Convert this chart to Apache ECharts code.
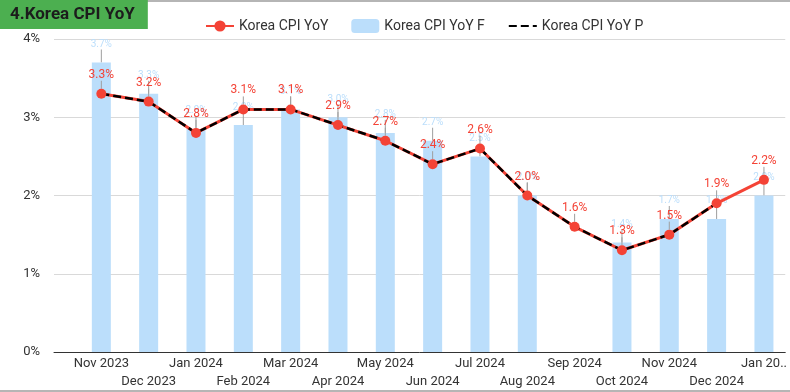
<!DOCTYPE html>
<html>
<head>
<meta charset="utf-8">
<script src="https://cdn.jsdelivr.net/npm/echarts@6/dist/echarts.min.js"></script>
<style>
html,body{margin:0;padding:0;background:#fff;}
#c{width:790px;height:392px;}
</style>
</head>
<body>
<div id="c"></div>
<script>
var categories = ['Nov 2023','Dec 2023','Jan 2024','Feb 2024','Mar 2024','Apr 2024','May 2024','Jun 2024','Jul 2024','Aug 2024','Sep 2024','Oct 2024','Nov 2024','Dec 2024','Jan 2025'];
var yoy  = [3.3, 3.2, 2.8, 3.1, 3.1, 2.9, 2.7, 2.4, 2.6, 2.0, 1.6, 1.3, 1.5, 1.9, 2.2];
var yoyF = [3.7, 3.3, 2.85, 2.9, 3.1, 3.0, 2.8, 2.7, 2.5, 2.0, null, 1.4, 1.7, 1.7, 2.0];
var yoyP = [3.3, 3.2, 2.8, 3.1, 3.1, 2.9, 2.7, 2.4, 2.6, 2.0, 1.6, 1.3, 1.5, 1.9, null];
var yTicks = [0, 1, 2, 3, 4];

function pairs(arr){ return arr.map(function(v,i){ return [i, v]; }); }
var FONT = 'Roboto, "Noto Sans", sans-serif';

var chart = echarts.init(document.getElementById('c'), null, {renderer:'canvas'});
chart.setOption({
  animation:false,
  textStyle:{fontFamily:FONT},
  title:{
    text:'4.Korea CPI YoY', left:0, top:0, z:10,
    backgroundColor:'#4caf50',
    padding:[5,13,5,10],
    textStyle:{fontSize:17, fontWeight:'bold', color:'#1c1c1c', fontFamily:FONT, lineHeight:19}
  },
  graphic:[
    {type:'line', z:-1, shape:{x1:0,y1:1,x2:790,y2:1}, style:{stroke:'#b5b5b5', lineWidth:2}},
    {type:'line', z:-1, shape:{x1:0,y1:391,x2:790,y2:391}, style:{stroke:'#b5b5b5', lineWidth:2}}
  ],
  legend:{
    data:['Korea CPI YoY','Korea CPI YoY F',{name:'Korea CPI YoY P', itemStyle:{opacity:0}}],
    left:200, top:14, itemWidth:28, itemHeight:14, itemGap:23, itemTextGap:7,
    textStyle:{fontSize:14, color:'#333', fontFamily:FONT}
  },
  grid:{left:54, right:0, top:39, bottom:40},
  xAxis:{
    type:'value', min:-1, max:14.45, interval:1,
    splitLine:{show:false}, axisTick:{show:false},
    axisLine:{show:true, lineStyle:{color:'#333', width:1}},
    axisLabel:{
      color:'#333', fontSize:13, margin:3, lineHeight:18, showMaxLabel:true, showMinLabel:true,
      formatter:function(v){
        if (v < 0 || Math.abs(v - Math.round(v)) > 1e-6) return '';
        var i = Math.round(v);
        var t = categories[i];
        if (i === categories.length - 1) t = t.slice(0,6) + '..';
        return (i % 2 === 1) ? '\n' + t : t;
      }
    }
  },
  yAxis:{
    type:'value', min:yTicks[0], max:yTicks[yTicks.length-1], interval:1,
    axisLine:{show:false}, axisTick:{show:false},
    axisLabel:{color:'#333', fontSize:13, margin:14, formatter:'{value}%'},
    splitLine:{lineStyle:{color:'#d9d9d9', width:1}}
  },
  series:[
    {
      name:'Korea CPI YoY F', type:'bar', data:pairs(yoyF), barWidth:19,
      itemStyle:{color:'#bbdefb'},
      label:{show:true, position:'top', distance:0, fontSize:10, color:'#bbdefb',
        formatter:function(p){ return p.value[1].toFixed(1)+'%'; }},
      labelLine:{show:true, lineStyle:{color:'#9e9e9e', width:1}},
      labelLayout:{dy:-13}
    },
    {
      name:'Korea CPI YoY', type:'line', data:pairs(yoy), z:3,
      symbol:'circle', symbolSize:10,
      lineStyle:{color:'#f44336', width:3}, itemStyle:{color:'#f44336'},
      label:{show:true, position:'top', distance:0, fontSize:12, color:'#f44336',
        formatter:function(p){ return p.value[1].toFixed(1)+'%'; }},
      labelLine:{show:true, lineStyle:{color:'#9e9e9e', width:1}},
      labelLayout:{dy:-8}
    },
    {
      name:'Korea CPI YoY P', type:'line', data:pairs(yoyP), z:3,
      symbol:'none', showSymbol:false,
      lineStyle:{color:'#000', width:2.5, type:[8,4]}, itemStyle:{color:'#000'}
    }
  ]
});
</script>
</body>
</html>
